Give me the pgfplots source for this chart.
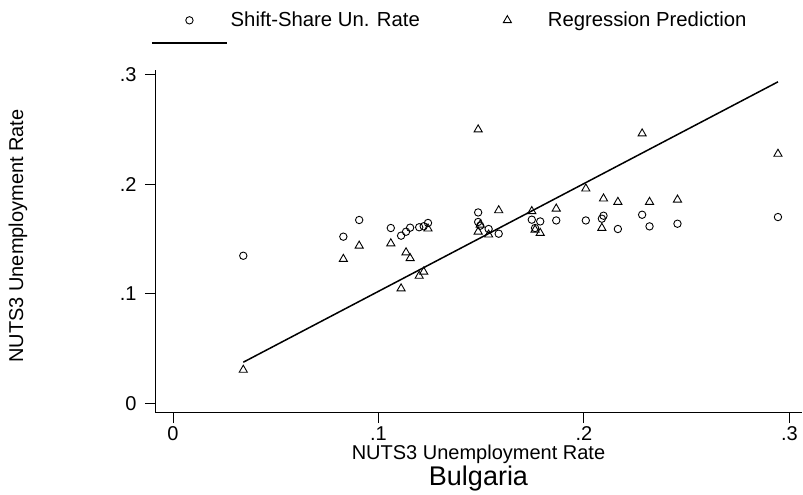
\documentclass[border=0pt]{standalone}
\usepackage{fontspec}
\setmainfont{Liberation Sans}
\usepackage{pgfplots}
\pgfplotsset{compat=1.18}
\pgfplotsset{
  markleg/.style={legend image code/.code={\path[draw=none] (0pt,0pt) -- (75pt,0pt); \draw[##1] plot coordinates {(37.5pt,0pt)};}},
  lineleg/.style={legend image code/.code={\draw[##1] (0pt,0pt) -- (75pt,0pt);}},
}
\pgfplotstableread{
x ss reg
0.0342 0.1347 0.0306
0.0829 0.1521 0.1317
0.0906 0.1673 0.1438
0.1060 0.1600 0.1459
0.1110 0.1530 0.1048
0.1134 0.1566 0.1377
0.1154 0.1603 0.1324
0.1198 0.1607 0.1163
0.1220 0.1616 0.1201
0.1241 0.1646 0.1594
0.1485 0.1742 0.2498
0.1485 0.1655 0.1566
0.1495 0.1621 0.1630
0.1536 0.1591 0.1539
0.1585 0.1548 0.1761
0.1746 0.1676 0.1753
0.1762 0.1600 0.1584
0.1787 0.1660 0.1554
0.1865 0.1669 0.1776
0.2009 0.1669 0.1959
0.2087 0.1685 0.1600
0.2095 0.1712 0.1868
0.2165 0.1591 0.1837
0.2283 0.1721 0.2461
0.2319 0.1615 0.1837
0.2455 0.1639 0.1858
0.2944 0.1700 0.2276
}\datatable
\begin{document}
\begin{tikzpicture}[x=1pt,y=1pt]
\path[use as bounding box] (0,0) rectangle (803,495);
\begin{axis}[
  at={(155pt,82pt)}, anchor=south west,
  scale only axis, width=647pt, height=343pt,
  xmin=-0.00876, xmax=0.3061, ymin=-0.0087, ymax=0.3041,
  axis lines*=left,
  axis line style={line width=1pt, black},
  xtick={0,0.1,0.2,0.3}, xticklabels={0,.1,.2,.3},
  ytick={0,0.1,0.2,0.3}, yticklabels={0,.1,.2,.3},
  tick align=outside, major tick length=10pt,
  tick style={line width=1pt, black},
  ticklabel style={font=\fontsize{20}{24}\selectfont},
  yticklabel style={xshift=-5pt},
  /pgf/number format/assume math mode=true,
  xlabel={NUTS3 Unemployment Rate}, ylabel={NUTS3 Unemployment Rate},
  label style={font=\fontsize{20}{24}\selectfont},
  xlabel style={at={(axis description cs:0.5,-0.137)}, anchor=base},
  ylabel style={at={(axis description cs:-0.212,0.516)}, anchor=center},
  clip=false,
  legend columns=2,
  legend cell align=left,
  legend style={draw=none, fill=none, at={(axis description cs:-0.0062,1.169)}, anchor=north west,
    inner sep=0pt, font=\fontsize{20.3}{24}\selectfont, row sep=14pt,
    nodes={inner xsep=3pt, inner ysep=0pt},
    /tikz/every even column/.append style={column sep=47pt}},
]
\addplot[only marks, mark=o, mark size=3.7pt, mark options={line width=0.9pt, black}, markleg]
  table[x=x, y=ss] {\datatable};
\addlegendentry{Shift-Share Un. Rate}
\addplot[only marks, mark=triangle, mark size=4.7pt, mark options={line width=0.9pt, black}, markleg]
  table[x=x, y=reg] {\datatable};
\addlegendentry{Regression Prediction}
\addplot[black, line width=1.5pt, lineleg]
  coordinates {(0.0342,0.0376) (0.2944,0.2933)};
\addlegendentry{\mbox{}}
\node[anchor=base, font=\fontsize{27}{30}\selectfont] at (axis description cs:0.5,-0.2128) {Bulgaria};
\end{axis}
\end{tikzpicture}
\end{document}
